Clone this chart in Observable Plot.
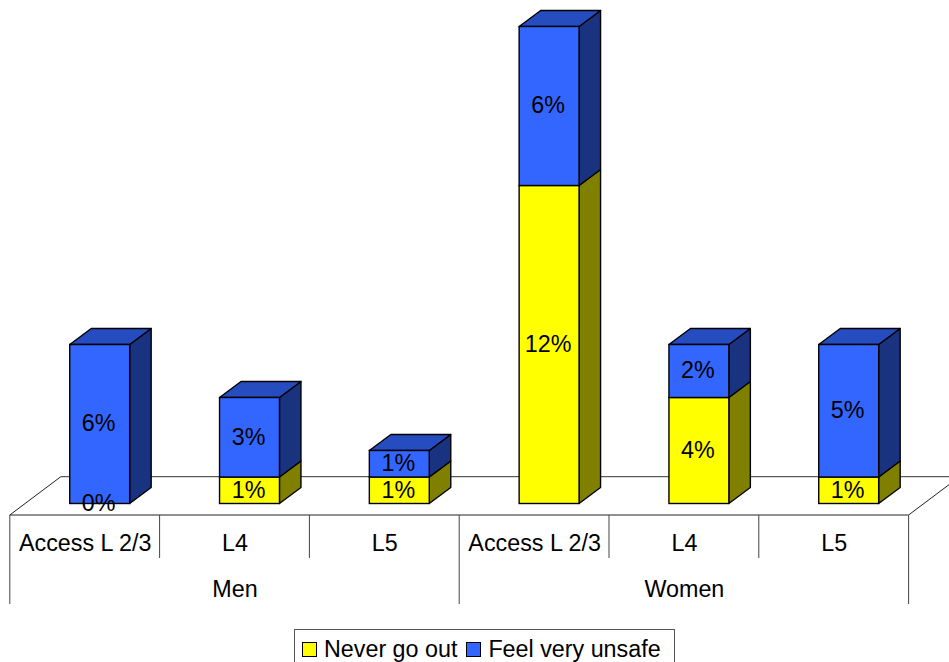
<!DOCTYPE html>
<html>
<head>
<meta charset="utf-8">
<script src="https://cdn.jsdelivr.net/npm/d3@7"></script>
<script src="https://cdn.jsdelivr.net/npm/@observablehq/plot@0.6"></script>
<style>
  html, body { margin: 0; padding: 0; background: #fff; overflow: hidden; }
  #chart svg { display: block; overflow: hidden; }
  #legend {
    box-sizing: border-box; height: 40px; width: 381px; margin-left: 294px;
    border: 1px solid #555; background: #fff;
    display: flex; align-items: center; padding: 0 0 0 7px; white-space: nowrap;
    font: 23.3px "Liberation Sans", Arial, sans-serif; color: #000;
  }
  #legend .sw { width: 13px; height: 13px; border: 1.5px solid #000; display: inline-block; margin-right: 7px; flex: none; box-sizing: content-box; }
  #legend .lb { margin-right: 9px; }
</style>
</head>
<body>
<div id="chart"></div>
<div id="legend"></div>
<script>
const groups = ["Men", "Men", "Men", "Women", "Women", "Women"];
const levels = ["Access L 2/3", "L4", "L5", "Access L 2/3", "L4", "L5"];
const series = ["Never go out", "Feel very unsafe"];
const seriesColors = ["#FFFF00", "#3366FF"];
const neverGoOut = [0, 1, 1, 12, 4, 1];
const feelVeryUnsafe = [6, 3, 1, 6, 2, 5];

const keys = levels.map((l, i) => groups[i] + " " + l);
const rows = [];
series.forEach((s, j) => {
  const vals = j === 0 ? neverGoOut : feelVeryUnsafe;
  keys.forEach((k, i) => rows.push({key: k, series: s, value: vals[i], label: vals[i] + "%"}));
});

const FONT = "Liberation Sans, Arial, sans-serif";
const FS = 23.3;
const depth = {dx: 21.5, dy: -16};      // bar extrusion
const floor = {dx: 51, dy: -38.3};      // floor extrusion
const axisShift = -15;                  // axis is in front of the bars
const shade = (c, k) => { const r = d3.rgb(c); return d3.rgb(r.r * k, r.g * k, r.b * k).formatHex(); };

function bandOf(s) { return typeof s.bandwidth === "function" ? s.bandwidth() : s.bandwidth; }

// Floor and multi-level category axis, placed from the x and y scales
function furniture(index, scales) {
  const {x, y} = scales;
  const bw = bandOf(x);
  const step = x(keys[1]) - x(keys[0]);
  const left = k => x(k) + bw / 2 + axisShift - step / 2;
  const x0 = left(keys[0]);
  const xEnd = x0 + step * keys.length;
  const yFront = y(0) + 11.5;
  const g = d3.create("svg:g").attr("fill", "none");
  const line = (a, b, c, d, col) => g.append("line").attr("x1", a).attr("y1", b).attr("x2", c).attr("y2", d)
    .attr("stroke", col).attr("stroke-width", 1);
  line(x0 + floor.dx, yFront + floor.dy, xEnd + floor.dx, yFront + floor.dy, "#333");
  line(x0, yFront, x0 + floor.dx, yFront + floor.dy, "#222");
  line(xEnd, yFront, xEnd + floor.dx, yFront + floor.dy, "#222");
  line(x0, yFront, xEnd, yFront, "#222");
  keys.forEach((k, i) => {
    const long = i === 0 || groups[i] !== groups[i - 1];
    line(left(k), yFront, left(k), yFront + (long ? 89 : 43), "#444");
  });
  line(xEnd, yFront, xEnd, yFront + 89, "#444");
  return g.node();
}

// Side and top faces of each front bar
function extrude(index, scales, values, dimensions, context, next) {
  const {x: X, y1: Y1, y2: Y2} = values;
  const bw = bandOf(scales.x);
  const g = d3.create("svg:g");
  const poly = (pts, fill) => g.append("polygon").attr("points", pts.map(p => p.join(",")).join(" "))
    .attr("fill", fill).attr("stroke", "#000").attr("stroke-width", 1.4).attr("stroke-linejoin", "round");
  for (const i of index) {
    const xr = X[i] + bw, xl = X[i];
    const base = Math.max(Y1[i], Y2[i]), top = Math.min(Y1[i], Y2[i]);
    const c = seriesColors[series.indexOf(rows[i].series)];
    if (rows[i].value > 0) {
      poly([[xr, base], [xr + depth.dx, base + depth.dy], [xr + depth.dx, top + depth.dy], [xr, top]], shade(c, 0.5));
    }
    if (rows[i].series === series[1]) {
      poly([[xl, top], [xr, top], [xr + depth.dx, top + depth.dy], [xl + depth.dx, top + depth.dy]], shade(c, 0.75));
    }
  }
  const front = next(index, scales, values, dimensions, context);
  g.node().appendChild(front);
  return g.node();
}

const plot = Plot.plot({
  width: 949,
  height: 629,
  margin: 0,
  style: {fontFamily: FONT, background: "#fff", color: "#000"},
  x: {type: "band", domain: keys, range: [24.8, 923.6], paddingInner: 0.6, paddingOuter: 0.3, round: false, axis: null},
  y: {domain: [0, 18], range: [503.5, 26.5], axis: null},
  color: {domain: series, range: seriesColors},
  marks: [
    furniture,
    Plot.barY(rows, Plot.stackY({
      x: "key", y: "value", z: "series", fill: "series",
      stroke: "#000", strokeWidth: 1.4, order: null, render: extrude
    })),
    Plot.text(rows, Plot.stackY({
      x: "key", y: "value", z: "series", text: "label", order: null,
      fontSize: FS, dx: -1.5, dy: -0.5, fill: "#000"
    })),
    Plot.text(keys, {
      x: d => d, y: () => 0, text: (d, i) => levels[i],
      dx: axisShift, dy: 40, fontSize: FS, fill: "#000"
    }),
    Plot.text([keys[1], keys[4]], {
      x: d => d, y: () => 0, text: d => groups[keys.indexOf(d)],
      dx: axisShift, dy: 86, fontSize: FS, fill: "#000"
    })
  ]
});
document.getElementById("chart").appendChild(plot);

const legend = d3.select("#legend");
series.forEach((s, i) => {
  legend.append("span").attr("class", "sw").style("background", seriesColors[i]);
  legend.append("span").attr("class", "lb").text(s);
});
</script>
</body>
</html>
